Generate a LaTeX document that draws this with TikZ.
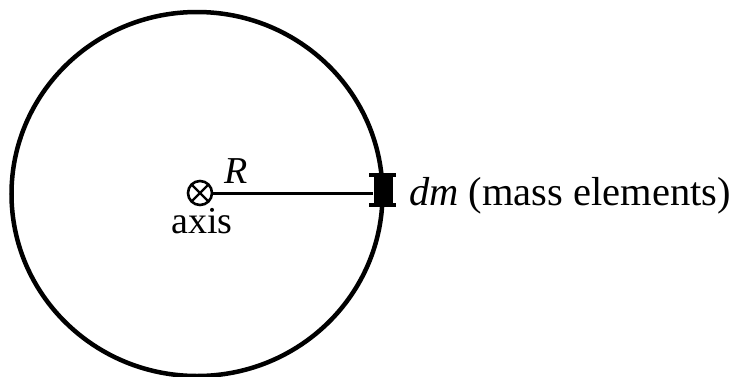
\documentclass[tikz,border=0pt]{standalone}
\usepackage{fontspec}
\setmainfont{Liberation Serif}
\begin{document}
\begin{tikzpicture}[x=1pt,y=-1pt,
  lbl/.style={inner sep=0pt,font=\fontsize{38}{40}\selectfont},
  axisnode/.style={circle,draw,line width=2.6pt,minimum size=24pt,inner sep=0pt,
    path picture={\draw[line width=2.2pt] (path picture bounding box.north west) -- (path picture bounding box.south east)
      (path picture bounding box.north east) -- (path picture bounding box.south west);}},
  masselem/.style={rectangle,fill=black,minimum width=19pt,minimum height=34pt,inner sep=0pt}]
\useasboundingbox (0,0) rectangle (732,376);
\fill[white] (0,0) rectangle (732,376);
% ring
\draw[line width=4.5pt] (197,194) ellipse [x radius=185.5, y radius=182];
% axis
\node[axisnode] (ax) at (200,193) {};
\node[masselem] (dm) at (383,190) {};
\fill (dm.north west) ++(-4,0) rectangle ++(27,4.5);
\fill (dm.south west) ++(-4,0) rectangle ++(27,-4.5);
\draw[line width=3pt] (ax.east) -- (dm.west |- ax.east);
\node[lbl,anchor=base] (R) at (236,183) {\textit{R}};
\node[lbl,anchor=base] (axl) at (202,233) {axis};
\node[lbl,anchor=base west,font=\fontsize{40.5}{42}\selectfont] (dml) at (409,205) {\textit{dm} (mass elements)};
\end{tikzpicture}
\end{document}
